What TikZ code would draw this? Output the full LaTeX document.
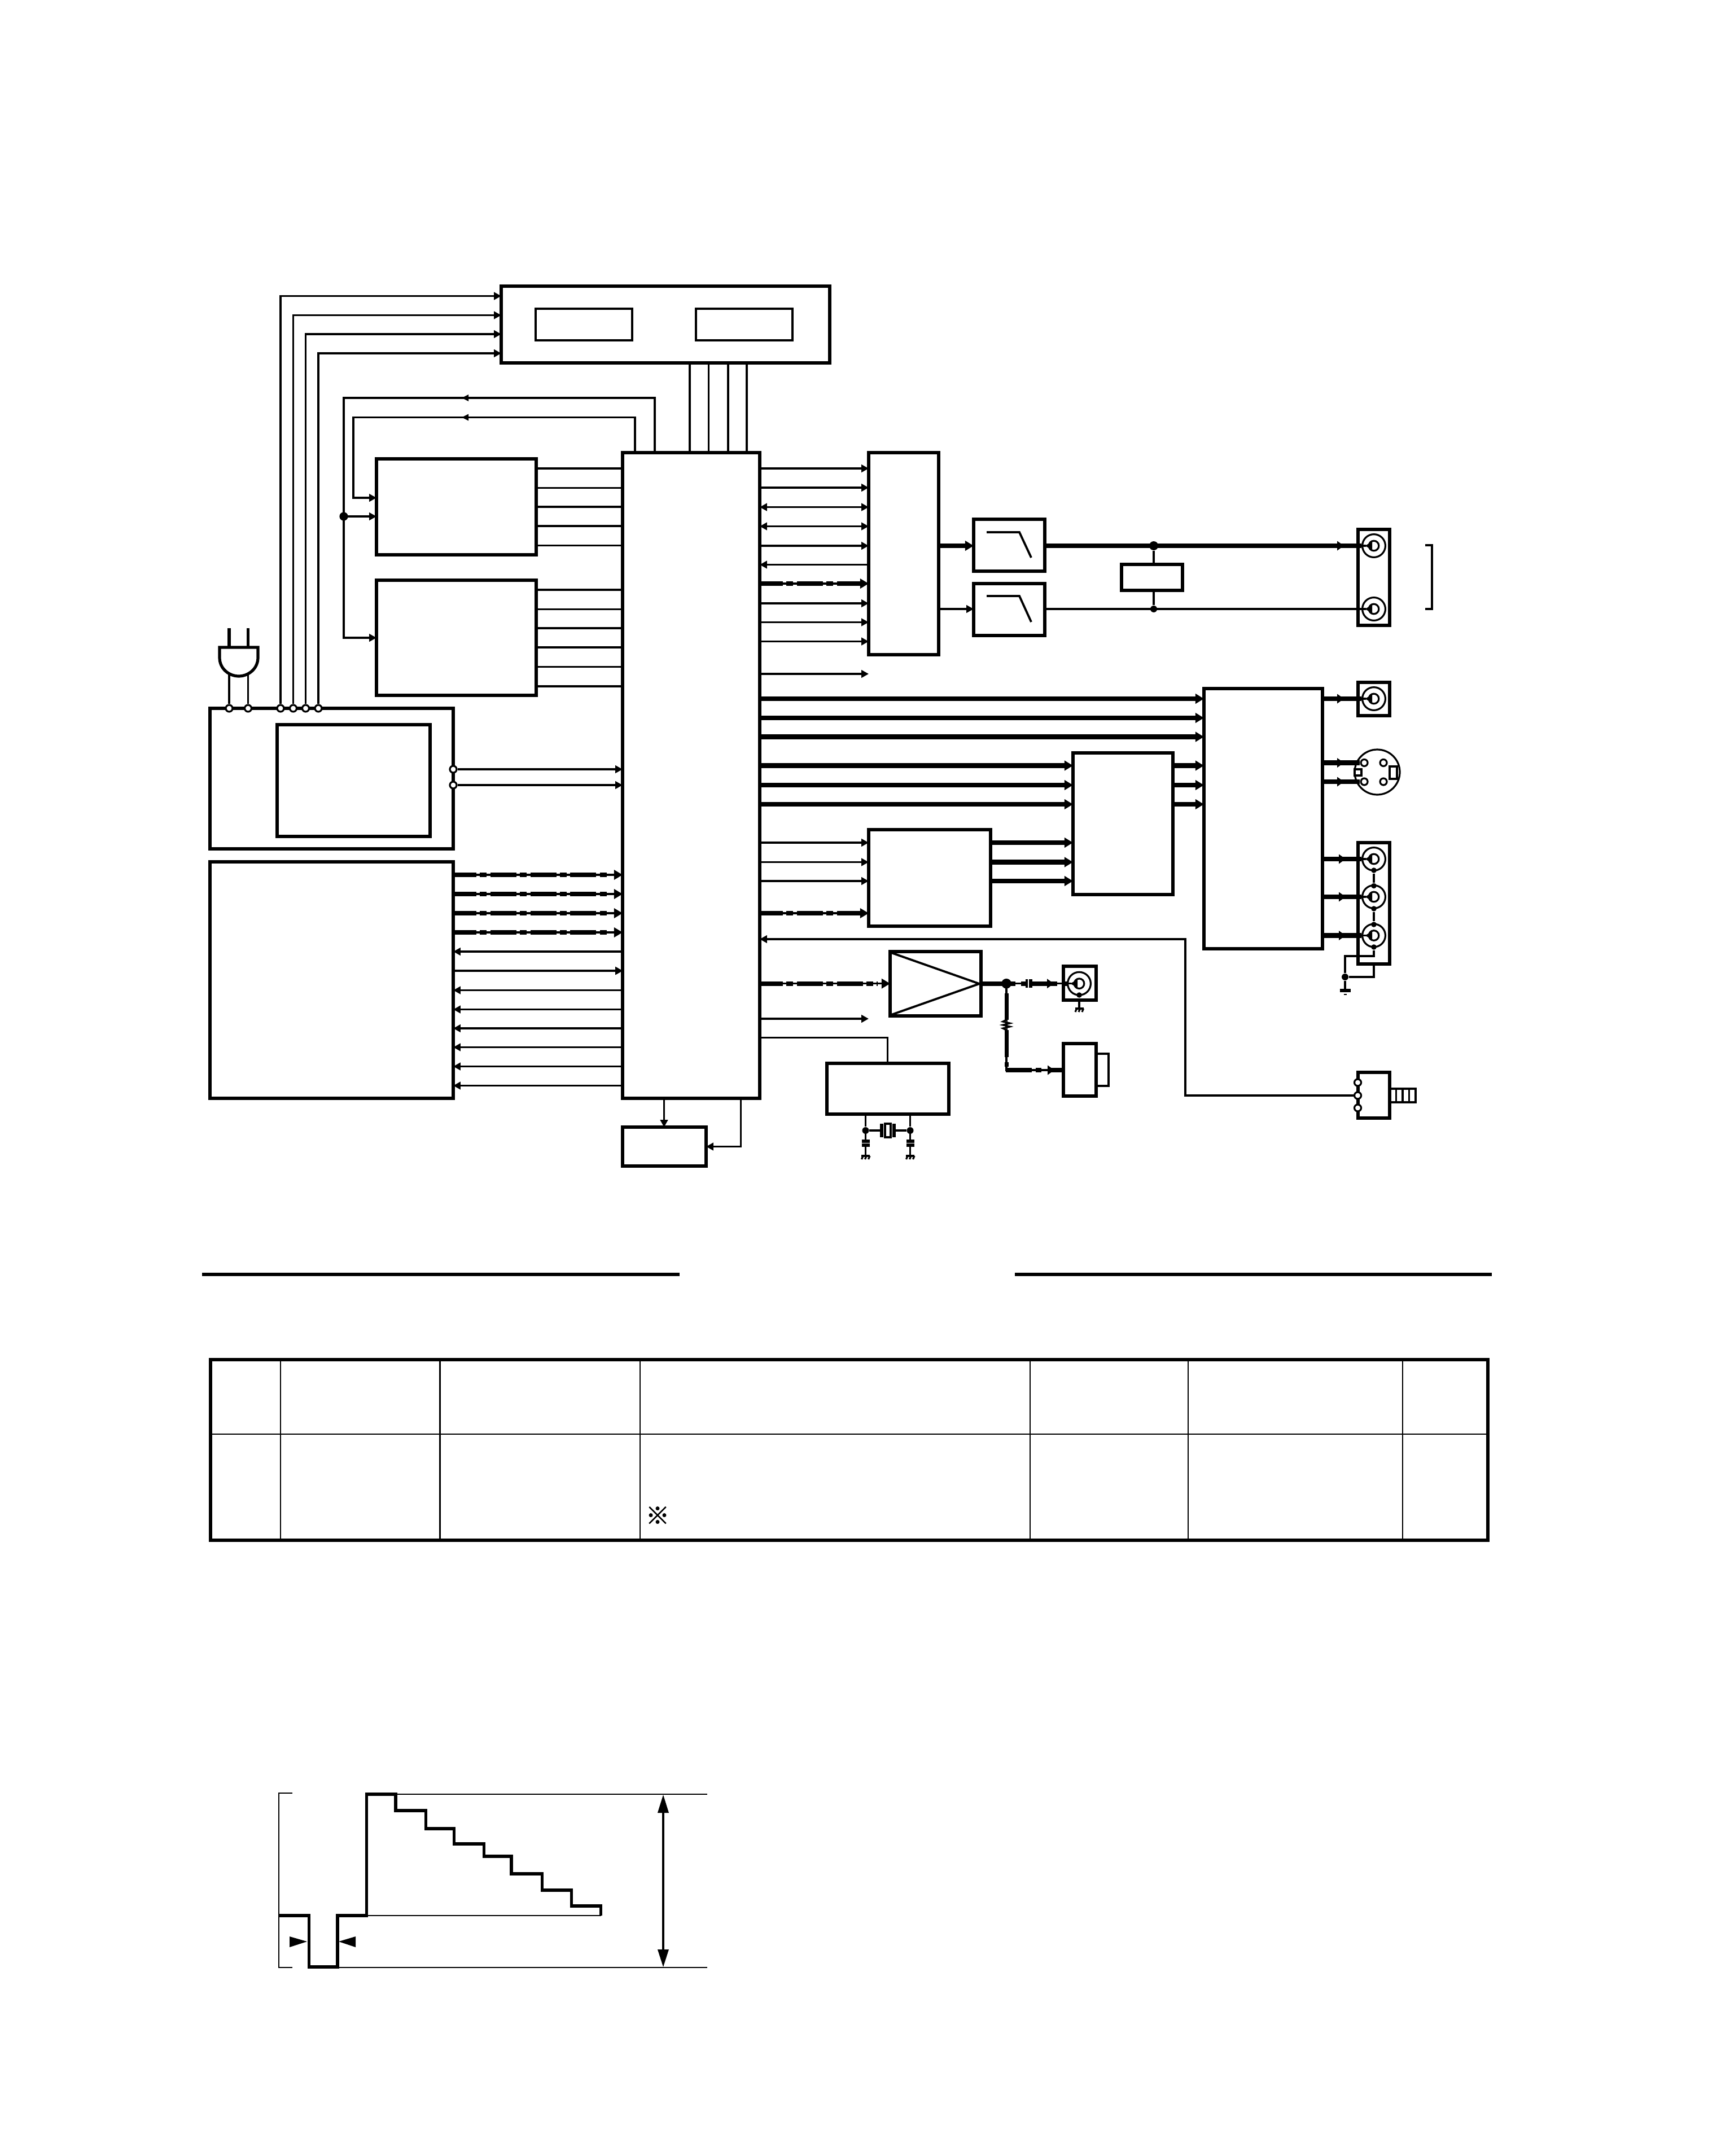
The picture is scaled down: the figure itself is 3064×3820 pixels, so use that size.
\documentclass[tikz,border=0pt]{standalone}
\usepackage{fontspec}
\newfontfamily\cjkfont{Noto Sans CJK JP}[FakeBold=1.5]
\usetikzlibrary{arrows.meta,calc}
\tikzset{
  blockline/.style={draw,rectangle,line width=1.3pt,inner sep=0pt,outer sep=0pt},
  lightbox/.style={draw,rectangle,line width=.85pt,inner sep=0pt,outer sep=0pt},
  thinline/.style={line width=.8pt},
  hairline/.style={line width=.7pt},
  busline/.style={line width=2.1pt},
  heavyline/.style={line width=1.3pt},
  righttip/.style={-{Triangle[length=3.2pt,width=3.3pt]}},
  lefttip/.style={{Triangle[length=3.2pt,width=3.3pt]}-},
  bothtips/.style={{Triangle[length=3.2pt,width=3.3pt]}-{Triangle[length=3.2pt,width=3.3pt]}},
  bustip/.style={-{Triangle[length=3.8pt,width=4.3pt]}},
  dashrun/.style={line width=2.1pt,dash pattern=on 11.5pt off 1.6pt on 3pt off 1.6pt,dash phase=1.25pt},
  term/.style={circle,draw,fill=white,line width=.8pt,minimum size=3pt,inner sep=0pt},
  joint/.style={circle,fill=black,minimum size=3.4pt,inner sep=0pt},
  smalljoint/.style={circle,fill=black,minimum size=2.4pt,inner sep=0pt},
  ring/.style={circle,draw,line width=.8pt,minimum size=10.2pt,inner sep=0pt},
  pinhole/.style={circle,draw,line width=.8pt,minimum size=4.4pt,inner sep=0pt},
}
% Rectangle node given by its two corners in drawing units
\newcommand{\boxat}[6][blockline]{%
  \node[#1,minimum width={(#5-#3)*.25pt},minimum height={(#6-#4)*.25pt}] (#2) at ({(#3+#5)/2},{(#4+#6)/2}) {};}
% Interrupted bus: plain line with a tip, long and short heavy runs on top
\newcommand{\patbus}[4][2pt]{%
  \draw[thinline,bustip] (#2 |- 0,#4) -- (#3 |- 0,#4);
  \draw[dashrun,shorten >=#1] (#2 |- 0,#4) -- (#3 |- 0,#4);}
% Arrow head placed along a heavy line
\newcommand{\midtip}[2]{\fill (#1-12,#2-8.5) -- (#1,#2) -- (#1-12,#2+8.5) -- cycle;}
% Phono socket: outer ring, inner hole and the pin
\newcommand{\phono}[3]{%
  \node[ring] (#1) at (#2,#3) {};
  \node[pinhole] (#1h) at (#2,#3) {};
  \fill (#2-16,#3) -- (#2-3,#3-7) -- (#2-3,#3+7) -- cycle;
  \draw[thinline] (#1.west) -- (#2-14,#3);}
% Chassis earth mark
\newcommand{\chassis}[1]{%
  \draw[thinline] ($(#1)+(-7.5,0)$) -- ($(#1)+(7.5,0)$);
  \foreach \d in {-6,0,6} \draw[thinline] ($(#1)+(\d+1.5,0)$) -- ($(#1)+(\d-1,6)$);}
\begin{document}
\begin{tikzpicture}[x=.25pt,y=-.25pt]
\useasboundingbox (0,0) rectangle (3064,3820);

% ---- blocks ----
\boxat{disp}{888}{507}{1470}{643}
\boxat[lightbox]{dispa}{949}{547}{1120}{603}
\boxat[lightbox]{dispb}{1233}{547}{1404}{603}
\boxat{drva}{667}{813}{950}{983}
\boxat{drvb}{667}{1028}{950}{1232}
\boxat{cpu}{1103}{802}{1346}{1946}
\boxat{psu}{372}{1255}{803}{1504}
\boxat{psuin}{491}{1284}{762}{1482}
\boxat{mem}{372}{1527}{803}{1946}
\boxat{rom}{1103}{1997}{1251}{2066}
\boxat{dac}{1539}{802}{1663}{1160}
\boxat{lpfa}{1725}{920}{1851}{1012}
\boxat{lpfb}{1725}{1034}{1851}{1126}
\boxat{lim}{1987}{1000}{2095}{1046}
\boxat{enc}{1539}{1470}{1755}{1641}
\boxat{mix}{1901}{1334}{2078}{1585}
\boxat{vout}{2133}{1220}{2343}{1681}
\boxat{amp}{1577}{1686}{1738}{1800}
\boxat{osc}{1465}{1884}{1681}{1974}
\boxat{rca}{2406}{938}{2462}{1108}
\boxat{rcy}{2406}{1209}{2462}{1268}
\boxat{rcc}{2406}{1493}{2462}{1708}
\boxat{rfj}{1884}{1712}{1942}{1772}
\boxat{mod}{1884}{1849}{1942}{1942}
\boxat[lightbox]{modtab}{1942}{1867}{1964}{1924}
\boxat{ctl}{2406}{1900}{2462}{1981}
\boxat[lightbox]{ctltab}{2462}{1929}{2508}{1953}
\foreach \x in {2473.5,2485,2496.5} \draw[thinline] (\x,0 |- ctltab.north) -- (\x,0 |- ctltab.south);

% Amplifier triangle and filter slopes
\draw[line width=.95pt,line join=bevel] (1579,1688) -- (1735,1743) -- (1579,1798);
\draw[line width=.95pt] (1748,943) -- (1806,943) -- (1827,988);
\draw[line width=.95pt] (1748,1056) -- (1806,1056) -- (1827,1102);

% ---- power section: mains plug and terminals ----
\foreach \n/\x in {pa/406,pb/439.5,sa/497,sb/519.5,sc/541.5,sd/564}
  \node[term] (\n) at (\x,1255) {};
\draw[heavyline] (406,1113) -- (406,1147);
\draw[heavyline] (439.5,1113) -- (439.5,1147);
\draw[heavyline] (389,1147) -- (457,1147) -- (457,1165)
  .. controls (457,1185) and (440,1198) .. (423,1198)
  .. controls (406,1198) and (389,1185) .. (389,1165) -- cycle;
\draw[thinline] (pa.north) -- (406,1192);
\draw[thinline] (pb.north) -- (439.5,1192);
\foreach \n/\y in {sa/524.5,sb/558.5,sc/592,sd/626}
  \draw[thinline,righttip] (\n.north) |- (disp.west |- 0,\y);
\node[term] (oa) at (803,1363) {};
\node[term] (ob) at (803,1391) {};
\draw[thinline,righttip] (oa.east) -- (cpu.west |- oa);
\draw[thinline,righttip] (ob.east) -- (cpu.west |- ob);

% ---- feedback from the processor to the drivers ----
\node[smalljoint,minimum size=3.8pt] (fj) at (609,915) {};
\foreach \x in {1222,1255.5,1290,1323}
  \draw[thinline] (\x,0 |- disp.south) -- (\x,0 |- cpu.north);
\draw[thinline,righttip] (fj.center) -- (drva.west |- fj);
\draw[thinline,righttip] (cpu.north -| 1160,0) |- (609,705) |- (drvb.west |- 0,1130);
\draw[thinline,righttip] (cpu.north -| 1125,0) |- (626,739.5) |- (drva.west |- 0,882);
\fill (818,705) -- (830,699) -- (830,711) -- cycle;
\fill (818,739.5) -- (830,733.5) -- (830,745.5) -- cycle;
\foreach \y in {830,864.5,898,932,966.5}
  \draw[thinline] (drva.east |- 0,\y) -- (cpu.west |- 0,\y);
\foreach \y in {1045,1079.5,1113,1147,1181.5,1216}
  \draw[thinline] (drvb.east |- 0,\y) -- (cpu.west |- 0,\y);

% ---- memory bus ----
\foreach \y in {1550,1584,1618,1652} \patbus[5.5pt]{mem.east}{cpu.west}{\y}
\draw[thinline,righttip] (mem.east |- 0,1720) -- (cpu.west |- 0,1720);
\foreach \y in {1686,1754.5,1788.5,1822,1855.5,1889.5,1923.5}
  \draw[thinline,lefttip] (mem.east |- 0,\y) -- (cpu.west |- 0,\y);

% ---- audio path ----
\foreach \y in {830,864,967,1069,1102.5,1136.5}
  \draw[thinline,righttip] (cpu.east |- 0,\y) -- (dac.west |- 0,\y);
\foreach \y in {898.5,932.5}
  \draw[thinline,bothtips] (cpu.east |- 0,\y) -- (dac.west |- 0,\y);
\draw[thinline,lefttip] (cpu.east |- 0,1000.5) -- (dac.west |- 0,1000.5);
\patbus{cpu.east}{dac.west}{1034}
\draw[thinline,righttip] (cpu.east |- 0,1194) -- (dac.west |- 0,1194);
\draw[busline,bustip] (dac.east |- 0,967) -- (lpfa.west |- 0,967);
\draw[thinline,righttip] (dac.east |- 0,1079) -- (lpfb.west |- 0,1079);
\phono{jal}{2434}{967}
\phono{jar}{2434}{1079}
\node[joint,minimum size=4pt] (ja) at (2044,967) {};
\node[smalljoint,minimum size=3pt] (jb) at (2044,1079) {};
\draw[busline] (lpfa.east |- jal) -- (jal.west);
\midtip{2381}{967}
\draw[thinline] (lpfb.east |- jar) -- (jar.west);
\draw[thinline] (ja) -- (lim.north -| ja);
\draw[thinline] (lim.south -| jb) -- (jb);
\draw[thinline] (2525,966) -- (2537,966) -- (2537,1079) -- (2525,1079);

% ---- video path ----
\foreach \y in {1238,1272,1305.5}
  \draw[busline,bustip] (cpu.east |- 0,\y) -- (vout.west |- 0,\y);
\foreach \y in {1356.5,1391,1425} {
  \draw[busline,bustip] (cpu.east |- 0,\y) -- (mix.west |- 0,\y);
  \draw[busline,bustip] (mix.east |- 0,\y) -- (vout.west |- 0,\y);
}
\foreach \y in {1493,1527.5,1561} {
  \draw[thinline,righttip] (cpu.east |- 0,\y) -- (enc.west |- 0,\y);
  \draw[busline,bustip] (enc.east |- 0,\y) -- (mix.west |- 0,\y);
}
\patbus{cpu.east}{enc.west}{1618}

% Video output sockets
\phono{jy}{2434}{1238}
\draw[busline] (vout.east |- jy) -- (jy.west);
\midtip{2381}{1238}
\node[circle,draw,line width=.8pt,minimum size=20pt,inner sep=0pt] (sv) at (2440,1368) {};
\foreach \n/\x/\y in {sva/2417/1351.5,svb/2451/1351.5,svc/2417/1385,svd/2451/1385}
  \node[circle,draw,fill=white,line width=.8pt,minimum size=3pt,inner sep=0pt] (\n) at (\x,\y) {};
\draw[thinline] (2400,1363) rectangle (2412,1374);
\draw[thinline] (2462,1358) rectangle (2475,1380);
\draw[busline] (vout.east |- sva) -- (sva.west);
\draw[busline] (vout.east |- svc) -- (svc.west);
\midtip{2381}{1351.5}
\midtip{2381}{1385}
\foreach \n/\y in {jca/1522,jcb/1589,jcc/1657.5} {
  \phono{\n}{2434}{\y}
  \draw[busline] (vout.east |- \n) -- (\n.west);
  \midtip{2384}{\y}
}
\node[smalljoint] (ca) at (2434,1542) {};
\node[smalljoint] (cb) at (2434,1569.5) {};
\node[smalljoint] (cc) at (2434,1610) {};
\node[smalljoint] (cd) at (2434,1638) {};
\node[smalljoint] (ce) at (2434,1678) {};
\draw[thinline] (ca) -- (cb);
\draw[thinline] (cc) -- (cd);
\node[smalljoint,minimum size=3pt] (gnd) at (2383,1731) {};
\draw[thinline] (ce) -- (2434,1694) -- (2383,1694) -- (gnd);
\draw[thinline] (rcc.south -| ce) |- (gnd);
\draw[thinline] (gnd) -- (2383,1755);
\draw[heavyline] (2373.5,1755) -- (2392.5,1755);
\draw[line width=.7pt] (2380.5,1762) -- (2385.5,1762);

% ---- control line from the connector on the lower right ----
\foreach \n/\y in {ca1/1918,ca2/1941,ca3/1963} \node[term] (\n) at (2405.5,\y) {};
\draw[thinline,lefttip] (cpu.east |- 0,1664) -- (2100,1664) |- (ca2.west);

% ---- RF output ----
\patbus[5.5pt]{cpu.east}{amp.west}{1742.7}
\node[joint,minimum size=4.4pt] (aj) at (1783,1742.7) {};
\phono{jrf}{1912}{1742.7}
\draw[thinline] (amp.east |- aj) -- (jrf.west);
\draw[busline] (amp.east |- aj) -- (1799,1742.7);
\draw[busline] (1809,1742.7) -- (1818,1742.7);
\draw[heavyline] (1820,1735) -- (1820,1750);
\draw[fill=white,draw=white] (1821.5,1730) rectangle (1823.5,1755);
\draw[heavyline] (1826,1735) -- (1826,1750);
\draw[busline] (1826,1742.7) -- (1873,1742.7);
\midtip{1867}{1742.7}
\draw[busline] (1882,1742.7) -- (1891,1742.7);
\node[smalljoint] (rfg) at (1912,1763) {};
\coordinate (rfe) at (1912,1787);
\draw[thinline] (rfg) -- (rfe);
\chassis{rfe}
% Feed to the modulator with its series resistor
\draw[thinline] (aj.center) |- (mod.west |- 0,1896);
\draw[line width=1.75pt] (1783,1760) -- (1783,1807);
\draw[thinline,fill=white] (1783,1807) -- (1777,1810) -- (1789,1813) -- (1777,1816) -- (1789,1819) -- (1777,1822) -- (1783,1825);
\draw[line width=1.75pt] (1783,1825) -- (1783,1873);
\draw[line width=1.75pt] (1783,1882) -- (1783,1890);
\draw[busline] (1782,1896) -- (1828,1896);
\draw[busline] (1835,1896) -- (1845,1896);
\draw[busline] (1858,1896) -- (mod.west |- 0,1896);
\midtip{1868}{1896}

% ---- remaining processor links ----
\draw[thinline,righttip] (cpu.east |- 0,1805) -- (dac.west |- 0,1805);
\draw[thinline] (cpu.east |- 0,1838.5) -| (osc.north -| 1572.5,0);
\draw[thinline,righttip] (cpu.south -| 1176.5,0) -- (rom.north -| 1176.5,0);
\draw[thinline,lefttip] (rom.east |- 0,2031.5) -| (cpu.south -| 1312.5,0);

% Crystal network
\node[smalljoint,minimum size=3pt] (xa) at (1533.5,2003) {};
\node[smalljoint,minimum size=3pt] (xb) at (1612.5,2003) {};
\draw[thinline] (osc.south -| xa) -- (xa);
\draw[thinline] (osc.south -| xb) -- (xb);
\draw[thinline] (xa) -- (1562,2003);
\draw[thinline] (1584,2003) -- (xb);
\draw[heavyline] (1562,1991) -- (1562,2015);
\draw[heavyline] (1584,1991) -- (1584,2015);
\draw[thinline] (1568,1991) rectangle (1578,2015);
\foreach \n/\x in {ge/1533.5,gf/1612.5} {
  \coordinate (\n) at (\x,2048);
  \draw[thinline] (\x,2003) -- (\x,2022);
  \draw[heavyline] (\x-7,2022) -- (\x+7,2022);
  \draw[heavyline] (\x-7,2029) -- (\x+7,2029);
  \draw[thinline] (\x,2029) -- (\n);
  \chassis{\n}
}

% ---- section rules ----
\draw[heavyline] (358,2258) -- (1204,2258);
\draw[heavyline] (1798,2258) -- (2643,2258);

% ---- table ----
\boxat{tbl}{373}{2409}{2636}{2729}
\foreach \x in {497,779.5,1134,1825,2105,2485}
  \draw[hairline] (\x,0 |- tbl.north) -- (\x,0 |- tbl.south);
\draw[hairline] (tbl.west |- 0,2541) -- (tbl.east |- 0,2541);
\node[inner sep=0pt] (mark) at (1165,2685) {\cjkfont\fontsize{10.5pt}{10.5pt}\selectfont ※};

% ---- waveform ----
\draw[hairline] (518,3177) -- (494,3177) -- (494,3486) -- (518,3486);
\draw[hairline] (701,3179) -- (1252.5,3179);
\draw[hairline] (598,3486) -- (1252.5,3486);
\draw[hairline] (649,3394) -- (1064.5,3394);
\draw[line width=1.4pt,line join=miter] (494,3394) -- (547.5,3394) -- (547.5,3485) -- (598,3485) -- (598,3394)
  -- (649.5,3394) -- (649.5,3179) -- (701,3179) -- (701,3208) -- (754.5,3208) -- (754.5,3240)
  -- (804.5,3240) -- (804.5,3267) -- (857.5,3267) -- (857.5,3289) -- (906,3289) -- (906,3320)
  -- (960.5,3320) -- (960.5,3349) -- (1012.5,3349) -- (1012.5,3377) -- (1064.5,3377) -- (1064.5,3394);
\draw[line width=1.1pt] (1175,3200) -- (1175,3465);
\fill (1175,3180) -- (1185,3212) -- (1165,3212) -- cycle;
\fill (1175,3485) -- (1185,3454) -- (1165,3454) -- cycle;
\fill (544,3440) -- (513,3431) -- (513,3450) -- cycle;
\fill (600,3440) -- (630,3431) -- (630,3450) -- cycle;
\end{tikzpicture}
\end{document}
